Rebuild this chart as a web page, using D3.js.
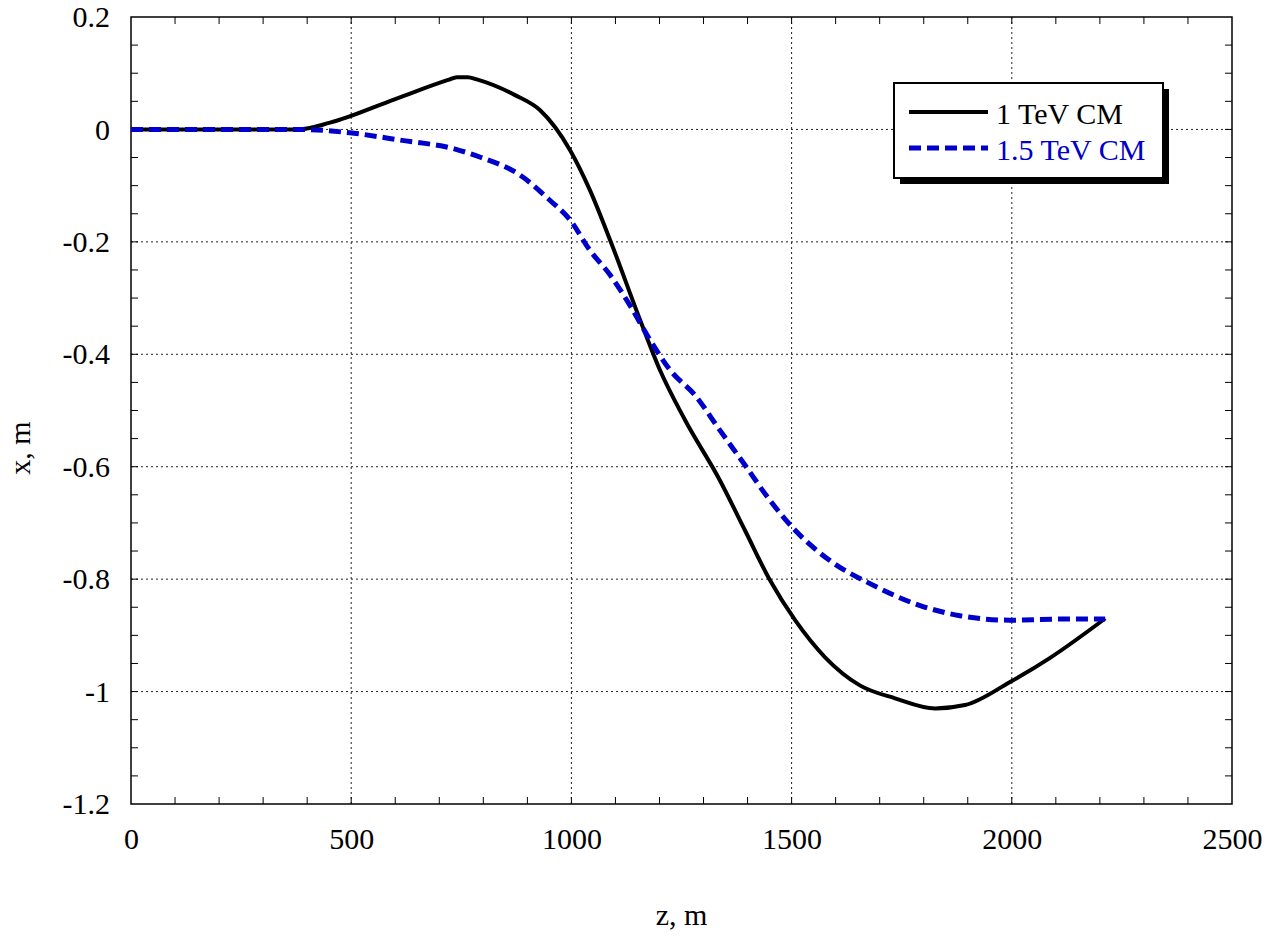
<!DOCTYPE html>
<html>
<head>
<meta charset="utf-8">
<script src="https://cdn.jsdelivr.net/npm/d3@7"></script>
<style>
  body { margin: 0; background: #fff; }
  text { font-family: "Liberation Serif", "Times New Roman", serif; }
</style>
</head>
<body>
<svg id="chart"></svg>
<script>
// series names
const seriesNames = ['1 TeV CM', '1.5 TeV CM'];

// 1 TeV CM
const zA = [0, 200, 380, 452, 600, 720, 740, 765, 785, 872, 929, 997, 1042, 1088, 1156, 1201, 1258, 1337, 1394, 1451, 1508, 1576, 1655, 1735, 1826, 1894, 1996, 2087, 2212];
const xA = [0, 0, 0, 0.012, 0.054, 0.088, 0.093, 0.093, 0.089, 0.061, 0.034, -0.037, -0.108, -0.197, -0.339, -0.428, -0.517, -0.624, -0.713, -0.802, -0.873, -0.939, -0.989, -1.012, -1.030, -1.024, -0.983, -0.940, -0.870];

// 1.5 TeV CM
const zB = [0, 200, 380, 497, 611, 736, 792, 883, 951, 997, 1042, 1088, 1133, 1179, 1224, 1281, 1337, 1394, 1451, 1508, 1587, 1678, 1792, 1882, 1996, 2109, 2212];
const xB = [0, 0, 0, -0.006, -0.019, -0.035, -0.049, -0.081, -0.126, -0.161, -0.215, -0.259, -0.313, -0.375, -0.428, -0.473, -0.535, -0.597, -0.660, -0.713, -0.767, -0.808, -0.847, -0.865, -0.873, -0.871, -0.871];

const xTicks = [0, 500, 1000, 1500, 2000, 2500];
const yTicks = [0.2, 0, -0.2, -0.4, -0.6, -0.8, -1, -1.2];

const width = 1278, height = 939;
const margin = { top: 17, right: 46, bottom: 135, left: 131 };
const innerWidth = width - margin.left - margin.right;
const innerHeight = height - margin.top - margin.bottom;

const svg = d3.select('#chart')
  .attr('width', width)
  .attr('height', height)
  .append('g')
  .attr('transform', `translate(${margin.left},${margin.top})`);

const xScale = d3.scaleLinear().domain([0, 2500]).range([0, innerWidth]);
const yScale = d3.scaleLinear().domain([-1.2, 0.2]).range([innerHeight, 0]);

// grid
svg.append('g').selectAll('line')
  .data(xTicks.slice(1, -1))
  .join('line')
  .attr('x1', d => xScale(d)).attr('x2', d => xScale(d))
  .attr('y1', 0).attr('y2', innerHeight)
  .attr('stroke', '#222').attr('stroke-width', 1).attr('stroke-dasharray', '2,3');

svg.append('g').selectAll('line')
  .data(yTicks.slice(1, -1))
  .join('line')
  .attr('x1', 0).attr('x2', innerWidth)
  .attr('y1', d => yScale(d)).attr('y2', d => yScale(d))
  .attr('stroke', '#222').attr('stroke-width', 1).attr('stroke-dasharray', '2,3');

// minor ticks, inward on all four sides
const tickLen = 7;
const minorX = d3.range(100, 2500, 100);
const minorY = d3.range(-1.15, 0.2, 0.05);
const ticks = svg.append('g').attr('stroke', '#000').attr('stroke-width', 1);
minorX.forEach(v => {
  ticks.append('line').attr('x1', xScale(v)).attr('x2', xScale(v)).attr('y1', innerHeight).attr('y2', innerHeight - tickLen);
  ticks.append('line').attr('x1', xScale(v)).attr('x2', xScale(v)).attr('y1', 0).attr('y2', tickLen);
});
minorY.forEach(v => {
  ticks.append('line').attr('x1', 0).attr('x2', tickLen).attr('y1', yScale(v)).attr('y2', yScale(v));
  ticks.append('line').attr('x1', innerWidth).attr('x2', innerWidth - tickLen).attr('y1', yScale(v)).attr('y2', yScale(v));
});

// frame
svg.append('rect')
  .attr('x', 0).attr('y', 0)
  .attr('width', innerWidth).attr('height', innerHeight)
  .attr('fill', 'none').attr('stroke', '#000').attr('stroke-width', 1.5);

// axes labels
const xAxis = svg.append('g')
  .attr('transform', `translate(0,${innerHeight})`)
  .call(d3.axisBottom(xScale).tickValues(xTicks).tickSize(0).tickPadding(24).tickFormat(d => String(d)));
xAxis.select('.domain').remove();
xAxis.selectAll('text').style('font-size', '30px').attr('fill', '#000');

const yAxis = svg.append('g')
  .call(d3.axisLeft(yScale).tickValues(yTicks).tickSize(0).tickPadding(21).tickFormat(d => String(+d.toFixed(1))));
yAxis.select('.domain').remove();
yAxis.selectAll('text').style('font-size', '30px').attr('fill', '#000');

svg.append('text')
  .attr('x', innerWidth / 2).attr('y', innerHeight + 121)
  .attr('text-anchor', 'middle')
  .style('font-size', '30px')
  .text('z, m');

svg.append('text')
  .attr('transform', `translate(${-101},${431}) rotate(-90)`)
  .attr('text-anchor', 'middle')
  .style('font-size', '30px')
  .text('x, m');

// lines
const line = d3.line().x(d => xScale(d[0])).y(d => yScale(d[1])).curve(d3.curveMonotoneX);

svg.append('path')
  .datum(zA.map((z, i) => [z, xA[i]]))
  .attr('d', line)
  .attr('fill', 'none').attr('stroke', '#000').attr('stroke-width', 4)
  .attr('stroke-linejoin', 'round');

svg.append('path')
  .datum(zB.map((z, i) => [z, xB[i]]))
  .attr('d', line)
  .attr('fill', 'none').attr('stroke', '#0000cc').attr('stroke-width', 5)
  .attr('stroke-dasharray', '12,6');

// legend
const lg = svg.append('g').attr('transform', `translate(${894 - margin.left},${83 - margin.top})`);
lg.append('rect').attr('x', 6).attr('y', 6).attr('width', 269).attr('height', 95).attr('fill', '#000');
lg.append('rect').attr('x', 0).attr('y', 0).attr('width', 269).attr('height', 95)
  .attr('fill', '#fff').attr('stroke', '#000').attr('stroke-width', 2);

const legendColors = ['#000', '#0000cc'];
seriesNames.forEach((name, i) => {
  const y = 29 + i * 36;
  lg.append('line')
    .attr('x1', 15).attr('x2', 94).attr('y1', y).attr('y2', y)
    .attr('stroke', legendColors[i]).attr('stroke-width', i === 0 ? 4 : 5)
    .attr('stroke-dasharray', i === 0 ? null : '12,6');
  lg.append('text')
    .attr('x', 102).attr('y', y + 12)
    .style('font-size', '30px')
    .attr('fill', legendColors[i])
    .text(name);
});
</script>
</body>
</html>
